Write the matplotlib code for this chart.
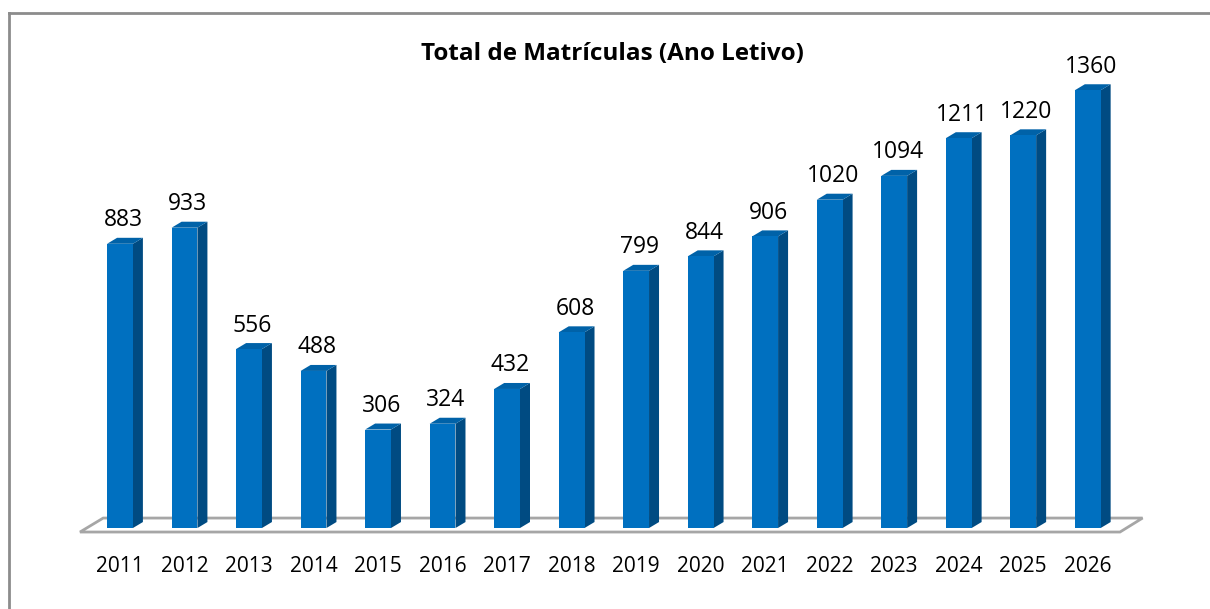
import matplotlib.pyplot as plt
from matplotlib.patches import Polygon
from matplotlib.lines import Line2D

anos = ["2011", "2012", "2013", "2014", "2015", "2016", "2017", "2018",
        "2019", "2020", "2021", "2022", "2023", "2024", "2025", "2026"]
matriculas = [883, 933, 556, 488, 306, 324, 432, 608,
              799, 844, 906, 1020, 1094, 1211, 1220, 1360]

plt.rcParams['font.family'] = ['Open Sans', 'DejaVu Sans']

fig = plt.figure(figsize=(12.1, 6.09), dpi=100)
ax = fig.add_axes([60 / 1210, 0.0801, 1120 / 1210, 0.888])
ax.set_xlim(-0.93, 16.43)
ax.set_ylim(-100, 1580)
ax.axis('off')

w = 0.4      # largura da face frontal
dx = 0.155   # profundidade (eixo x)
dy = 18.6    # profundidade (eixo y, em unidades de dados)

# piso
piso = Polygon([(-0.62, -12.4), (15.5, -12.4), (15.85, 31), (-0.26, 31)],
               closed=True, facecolor='white', edgecolor='#a6a6a6', lw=2, zorder=1)
ax.add_patch(piso)

x = list(range(len(anos)))
ax.bar(x, matriculas, width=w, color='#0070C0', zorder=3)
for i, v in zip(x, matriculas):
    lado = Polygon([(i + w / 2, 0), (i + w / 2 + dx, dy), (i + w / 2 + dx, v + dy), (i + w / 2, v)],
                   closed=True, facecolor='#004B82', edgecolor='none', zorder=2)
    topo = Polygon([(i - w / 2, v), (i - w / 2 + dx, v + dy), (i + w / 2 + dx, v + dy), (i + w / 2, v)],
                   closed=True, facecolor='#0062A8', edgecolor='none', zorder=2)
    ax.add_patch(lado)
    ax.add_patch(topo)
    ax.annotate(str(v), (i + dx / 3, v + dy), xytext=(0, 4), textcoords='offset points',
                ha='center', va='bottom', fontsize=16.5)
    ax.text(i, -120, anos[i], ha='center', va='center', fontsize=15)

fig.text(612 / 1210, 1 - 54 / 609, "Total de Matrículas (Ano Letivo)", ha='center', va='center',
         fontsize=17.5, fontweight='bold')

# moldura
fig.add_artist(Line2D([9 / 1210, 1], [1 - 13 / 609, 1 - 13 / 609], color='#8c8c8c', lw=2))
fig.add_artist(Line2D([9 / 1210, 9 / 1210], [0, 1 - 13 / 609], color='#8c8c8c', lw=2))

fig.savefig("out.png", dpi=100)
